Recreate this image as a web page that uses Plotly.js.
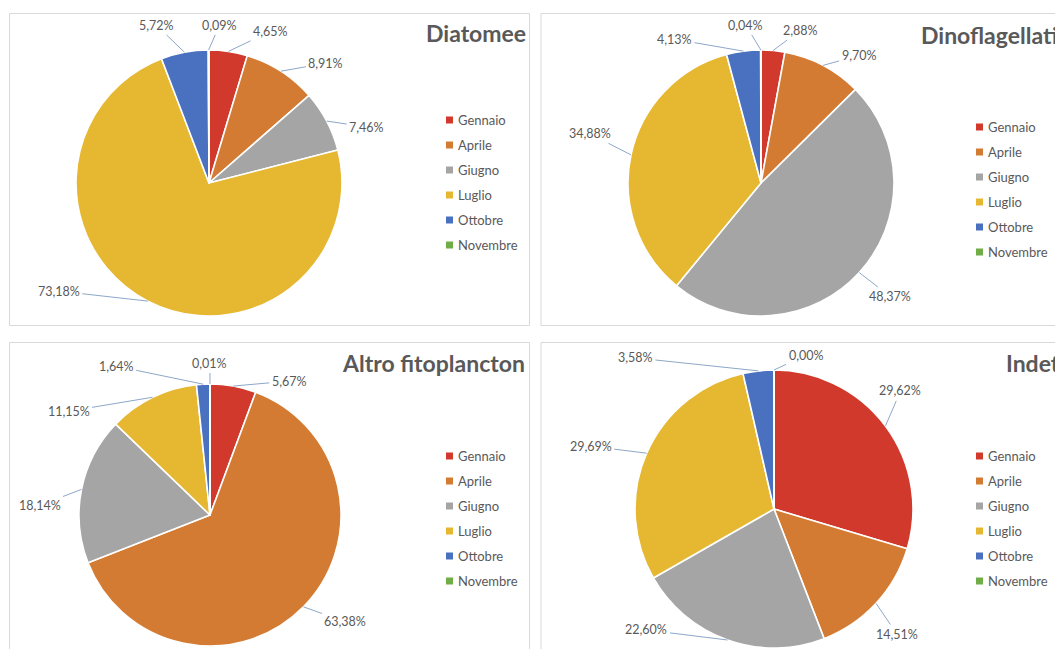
<!DOCTYPE html>
<html>
<head>
<meta charset="utf-8">
<script src="https://cdn.plot.ly/plotly-3.0.1.min.js"></script>
<style>
  html, body { margin: 0; padding: 0; background: #ffffff; }
  #chart { width: 1055px; height: 649px; }
</style>
</head>
<body>
<div id="chart"></div>
<script>
// Mesi di campionamento (ordine delle fette, in senso orario da ore 12)
const mesi = ['Gennaio', 'Aprile', 'Giugno', 'Luglio', 'Ottobre', 'Novembre'];

// Percentuali per gruppo
const diatomee          = [4.65, 8.91, 7.46, 73.18, 5.72, 0.09];
const dinoflagellati    = [2.88, 9.70, 48.37, 34.88, 4.13, 0.04];
const altroFitoplancton = [5.67, 63.38, 18.14, 11.15, 1.64, 0.01];
const indeterminati     = [29.62, 14.51, 22.60, 29.69, 3.58, 0.00];

const titoli = ['Diatomee', 'Dinoflagellati', 'Altro fitoplancton', 'Indeterminati'];
const serie  = [diatomee, dinoflagellati, altroFitoplancton, indeterminati];

const colori = ['#D0392B', '#D47B33', '#A5A5A5', '#E6B731', '#4A70C0', '#70AD47'];

// ---- layout of the four panels (pixels) ----
const W = 1055, H = 649;
const pannelli = [
  { box: [9.5, 13.5, 529.5, 325.5], cx: 209, cy: 183, r: 133,
    title: { x: 528, y: 33, anchor: 'right' }, legend: { x: 446, y: 120 },
    offs: [[42, -20], [45, -8], [40, 6], [-89, -10], [-28, -27], [11, -25]] },
  { box: [541, 13.5, 1070, 325.5], cx: 761, cy: 183, r: 133,
    title: { x: 919, y: 35, anchor: 'left' }, legend: { x: 976, y: 127 },
    offs: [[27, -20], [36, -10], [31, 24], [-41, -21], [-69, -12], [-15, -25]] },
  { box: [9.5, 342.5, 529.5, 670], cx: 210, cy: 515, r: 131,
    title: { x: 527, y: 363, anchor: 'right' }, legend: { x: 446, y: 456 },
    offs: [[56, -5], [42, 15], [-42, 16], [-84, 14], [-87, -18], [0, -21]] },
  { box: [541, 342.5, 1070, 670], cx: 774, cy: 509, r: 139,
    title: { x: 1004, y: 363, anchor: 'left' }, legend: { x: 976, y: 456 },
    offs: [[15, -35], [21, 31], [-81, -10], [-56, -7], [-123, -13], [32, -15]] }
];

const px = x => x / W;
const py = y => 1 - y / H;
const fmt = v => v.toFixed(2).replace('.', ',') + '%';

const LABEL_FONT = { family: 'Lato, "Open Sans", sans-serif', size: 12.5, color: '#595959' };

const traces = [];
const shapes = [];
const annotations = [];

pannelli.forEach((p, k) => {
  const valori = serie[k];

  // panel frame
  shapes.push({
    type: 'rect', xref: 'paper', yref: 'paper',
    x0: px(p.box[0]), x1: px(p.box[2]), y0: py(p.box[3]), y1: py(p.box[1]),
    line: { color: '#D9D9D9', width: 1 }, fillcolor: 'rgba(0,0,0,0)', layer: 'below'
  });

  // pie
  traces.push({
    type: 'pie',
    labels: mesi,
    values: valori,
    sort: false,
    direction: 'clockwise',
    rotation: 0,
    textinfo: 'none',
    hoverinfo: 'skip',
    showlegend: false,
    marker: { colors: colori, line: { color: '#FFFFFF', width: 1.6 } },
    domain: {
      x: [px(p.cx - p.r), px(p.cx + p.r)],
      y: [py(p.cy + p.r), py(p.cy - p.r)]
    }
  });

  // data labels with leader lines, anchored at the middle of each slice's arc
  const tot = valori.reduce((a, b) => a + b, 0);
  let cum = 0;
  valori.forEach((v, i) => {
    const mid = (cum + v / 2) / tot;
    cum += v;
    const ang = 2 * Math.PI * mid;
    const ex = p.cx + p.r * Math.sin(ang);
    const ey = p.cy - p.r * Math.cos(ang);
    annotations.push({
      xref: 'paper', yref: 'paper', x: px(ex), y: py(ey),
      ax: p.offs[i][0], ay: p.offs[i][1],
      text: fmt(v),
      showarrow: true, arrowhead: 0, arrowwidth: 1, arrowcolor: '#8DA7C9',
      standoff: 0, startstandoff: 1,
      font: LABEL_FONT
    });
  });

  // panel title
  annotations.push({
    xref: 'paper', yref: 'paper', x: px(p.title.x), y: py(p.title.y),
    xanchor: p.title.anchor, yanchor: 'middle', showarrow: false,
    text: titoli[k],
    font: { family: 'Lato, "Open Sans", sans-serif', size: 23, color: '#595959', weight: 'bold' }
  });

  // legend: small swatch + month name
  mesi.forEach((m, i) => {
    const yy = p.legend.y + 25 * i;
    shapes.push({
      type: 'rect', xref: 'paper', yref: 'paper',
      x0: px(p.legend.x), x1: px(p.legend.x + 7),
      y0: py(yy + 3.5), y1: py(yy - 3.5),
      line: { width: 0 }, fillcolor: colori[i]
    });
    annotations.push({
      xref: 'paper', yref: 'paper', x: px(p.legend.x + 10), y: py(yy),
      xanchor: 'left', yanchor: 'middle', showarrow: false,
      text: m,
      font: { family: 'Lato, "Open Sans", sans-serif', size: 13, color: '#595959' }
    });
  });
});

const layout = {
  width: W, height: H,
  margin: { l: 0, r: 0, t: 0, b: 0 },
  paper_bgcolor: '#FFFFFF',
  plot_bgcolor: '#FFFFFF',
  separators: ',.',
  showlegend: false,
  shapes: shapes,
  annotations: annotations
};

Plotly.newPlot('chart', traces, layout, { staticPlot: true, displayModeBar: false });
</script>
</body>
</html>
